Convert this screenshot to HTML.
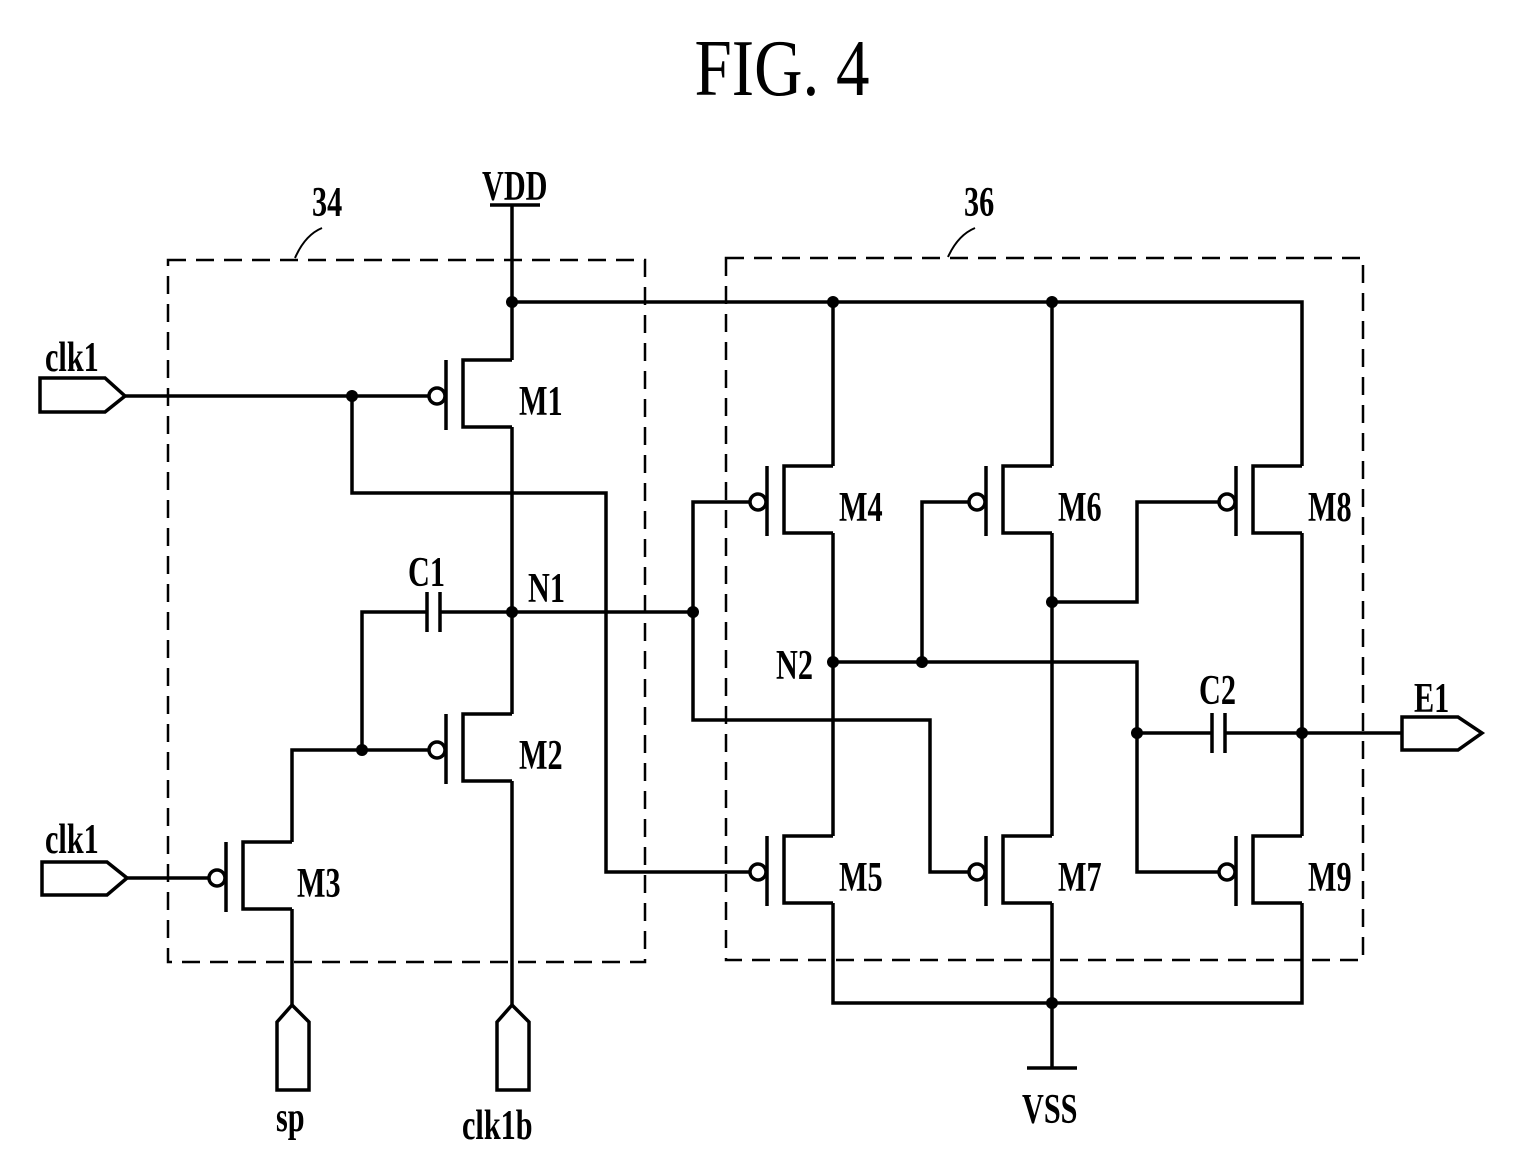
<!DOCTYPE html>
<html><head><style>html,body{margin:0;padding:0;background:#fff}</style></head>
<body>
<svg width="1524" height="1169" viewBox="0 0 1524 1169" xmlns="http://www.w3.org/2000/svg" font-family="Liberation Serif, serif" font-weight="bold">
<defs>
<g id="tr" fill="none" stroke="#000" stroke-width="3.5">
<path d="M0,-36 H-49 V31 H0"/>
<line x1="-66" y1="-36" x2="-66" y2="34"/>
<circle cx="-75" cy="0" r="8" fill="#fff"/>
</g>
</defs>
<text x="782" y="95" font-size="80" font-weight="normal" text-anchor="middle" textLength="175" lengthAdjust="spacingAndGlyphs">FIG. 4</text>
<g fill="none" stroke="#000" stroke-width="2.5" stroke-dasharray="18,10">
<rect x="168" y="260" width="477" height="702"/>
<rect x="726" y="258" width="637" height="702"/>
</g>
<g fill="none" stroke="#000" stroke-width="2">
<path d="M295,258 Q305,235 322,228"/>
<path d="M948,257 Q958,235 975,228"/>
</g>
<g fill="none" stroke="#000" stroke-width="3.5">
<line x1="490" y1="205" x2="540" y2="205"/>
<path d="M512,205 V360"/>
<path d="M512,302 H1302 V466"/>
<path d="M833,302 V466"/><path d="M1052,302 V466"/>
<path d="M512,427 V714"/><path d="M512,781 V1005"/>
<path d="M362,750 V612 H427"/><path d="M440,612 H693"/>
<line x1="427" y1="592" x2="427" y2="632"/><line x1="440" y1="592" x2="440" y2="632"/>
<path d="M362,750 H430"/>
<path d="M362,750 H292 V842"/><path d="M292,909 V1005"/>
<path d="M125,396 H429"/>
<path d="M40,378 H105 L125,396 L105,412 H40 Z"/>
<path d="M125,878 H209"/>
<path d="M42,862 H107 L127,878 L107,895 H42 Z"/>
<path d="M352,396 V493 H606 V872 H750"/>
<path d="M693,612 V502 H750"/>
<path d="M693,612 V720 H930 V872 H969"/>
<path d="M833,533 V836"/><path d="M833,903 V1003 H1302 V903"/>
<path d="M1052,533 V836"/><path d="M1052,903 V1068"/>
<line x1="1027" y1="1068" x2="1077" y2="1068"/>
<path d="M833,662 H1137 V872 H1219"/>
<path d="M922,662 V502 H969"/>
<path d="M1052,602 H1137 V502 H1219"/>
<path d="M1302,533 V836"/>
<path d="M1137,733 H1212"/><path d="M1225,733 H1402"/>
<line x1="1212" y1="713" x2="1212" y2="753"/><line x1="1225" y1="713" x2="1225" y2="753"/>
<path d="M1402,717 H1458 L1482,733 L1458,750 H1402 Z"/>
<path d="M292,1005 L309,1022 V1090 H277 V1022 Z"/>
<path d="M512,1005 L529,1022 V1090 H497 V1022 Z"/>
</g>
<use href="#tr" x="512" y="396"/>
<use href="#tr" x="512" y="750"/>
<use href="#tr" x="292" y="878"/>
<use href="#tr" x="833" y="502"/>
<use href="#tr" x="833" y="872"/>
<use href="#tr" x="1052" y="502"/>
<use href="#tr" x="1052" y="872"/>
<use href="#tr" x="1302" y="502"/>
<use href="#tr" x="1302" y="872"/>
<g fill="#000">
<circle cx="512" cy="302" r="6"/><circle cx="833" cy="302" r="6"/><circle cx="1052" cy="302" r="6"/>
<circle cx="352" cy="396" r="6"/><circle cx="512" cy="612" r="6"/><circle cx="693" cy="612" r="6"/>
<circle cx="362" cy="750" r="6"/><circle cx="833" cy="662" r="6"/><circle cx="922" cy="662" r="6"/>
<circle cx="1052" cy="602" r="6"/><circle cx="1137" cy="733" r="6"/><circle cx="1302" cy="733" r="6"/>
<circle cx="1052" cy="1003" r="6"/>
</g>
<g font-size="42">
<text transform="translate(519,415) scale(0.72,1)">M1</text>
<text transform="translate(519,769) scale(0.72,1)">M2</text>
<text transform="translate(297,897) scale(0.72,1)">M3</text>
<text transform="translate(839,521) scale(0.72,1)">M4</text>
<text transform="translate(839,891) scale(0.72,1)">M5</text>
<text transform="translate(1058,521) scale(0.72,1)">M6</text>
<text transform="translate(1058,891) scale(0.72,1)">M7</text>
<text transform="translate(1308,521) scale(0.72,1)">M8</text>
<text transform="translate(1308,891) scale(0.72,1)">M9</text>
<text transform="translate(408,586) scale(0.72,1)">C1</text>
<text transform="translate(528,602) scale(0.72,1)">N1</text>
<text transform="translate(776,679) scale(0.72,1)">N2</text>
<text transform="translate(1199,704) scale(0.72,1)">C2</text>
<text transform="translate(1414,712) scale(0.72,1)">E1</text>
<text transform="translate(482,200) scale(0.72,1)">VDD</text>
<text transform="translate(1022,1123) scale(0.72,1)">VSS</text>
<text transform="translate(45,371) scale(0.72,1)">clk1</text>
<text transform="translate(45,853) scale(0.72,1)">clk1</text>
<text transform="translate(276,1131) scale(0.72,1)">sp</text>
<text transform="translate(462,1139) scale(0.72,1)">clk1b</text>
<text transform="translate(312,216) scale(0.72,1)">34</text>
<text transform="translate(964,216) scale(0.72,1)">36</text>
</g>
</svg>
</body></html>
